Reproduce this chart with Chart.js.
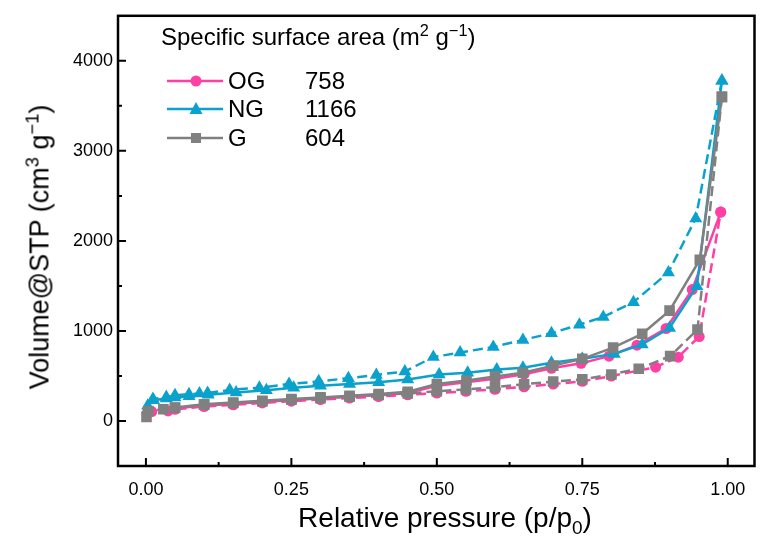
<!DOCTYPE html>
<html>
<head>
<meta charset="utf-8">
<script src="https://cdn.jsdelivr.net/npm/chart.js@4.4.0/dist/chart.umd.min.js"></script>
<style>
  body { margin: 0; background: #fff; font-family: "Liberation Sans", Arial, sans-serif; }
  #wrap { position: relative; width: 762px; height: 536px; }
  #wrap canvas { position: absolute; left: 0; top: 0; }
  .txt { position: absolute; color: #000; white-space: nowrap; line-height: 1; }
  sup, sub { font-size: 0.68em; line-height: 0; }
  #ytitle { left: 40px; top: 247px; font-size: 27px; transform: translate(-50%, -50%) rotate(-90deg); }
  #xtitle { left: 445px; top: 518px; font-size: 28px; transform: translate(-50%, -50%); }
  #legend { position: absolute; left: 161px; top: 25px; font-size: 24px; }
  .row { position: absolute; left: 6px; height: 24px; width: 220px; }
  .row svg { position: absolute; left: 0; top: 4px; }
  .row .name { position: absolute; left: 61px; top: 0px; }
  .row .val { position: absolute; left: 138px; top: 0px; }
</style>
</head>
<body>
<div id="wrap">
  <canvas id="isoChart" width="762" height="536"></canvas>
  <div class="txt" id="ytitle">Volume@STP (cm<sup>3</sup> g<sup>&minus;1</sup>)</div>
  <div class="txt" id="xtitle">Relative pressure (p/p<sub>0</sub>)</div>
  <div class="txt" id="legend">
    <div style="position:absolute;left:0;top:0;">Specific surface area (m<sup>2</sup> g<sup>&minus;1</sup>)</div>
    <div class="row" style="top:44px;">
      <svg width="58" height="16"><line x1="0" y1="8" x2="56" y2="8" stroke="#ff3fa3" stroke-width="2.5"/><circle cx="29" cy="8" r="5.5" fill="#ff3fa3"/></svg>
      <span class="name">OG</span><span class="val">758</span>
    </div>
    <div class="row" style="top:72px;">
      <svg width="58" height="16"><line x1="0" y1="8" x2="56" y2="8" stroke="#0aa2cc" stroke-width="2.5"/><polygon points="29,1 35.5,13 22.5,13" fill="#0aa2cc"/></svg>
      <span class="name">NG</span><span class="val">1166</span>
    </div>
    <div class="row" style="top:101px;">
      <svg width="58" height="16"><line x1="0" y1="8" x2="56" y2="8" stroke="#808080" stroke-width="2.5"/><rect x="24" y="3" width="10" height="10" fill="#808080"/></svg>
      <span class="name">G</span><span class="val">604</span>
    </div>
  </div>
</div>
<script>
// Datos: adsorción (rama inferior) y desorción (rama superior)
const ogAdsP = [0.002, 0.01, 0.038, 0.05, 0.1, 0.15, 0.2, 0.25, 0.3, 0.35, 0.4, 0.45, 0.5, 0.55, 0.6, 0.65, 0.7, 0.75, 0.8, 0.876, 0.915, 0.951, 0.988];
const ogAdsV = [85, 105, 112, 130, 160, 180, 200, 220, 238, 255, 272, 290, 310, 330, 352, 380, 410, 440, 499, 598, 709, 938, 2320];
const ogDesP = [0.988, 0.939, 0.894, 0.844, 0.796, 0.748, 0.697, 0.65, 0.6, 0.55, 0.5, 0.45, 0.4, 0.35, 0.3, 0.25, 0.2, 0.15, 0.1, 0.05];
const ogDesV = [2320, 1459, 1027, 842, 720, 640, 585, 520, 470, 430, 390, 312, 292, 272, 252, 232, 212, 192, 170, 140];

const ngAdsP = [0.003, 0.013, 0.035, 0.05, 0.074, 0.107, 0.155, 0.207, 0.254, 0.3, 0.35, 0.4, 0.45, 0.504, 0.553, 0.603, 0.648, 0.697, 0.75, 0.805, 0.853, 0.9, 0.947, 0.99];
const ngAdsV = [170, 230, 250, 262, 275, 290, 315, 340, 368, 390, 410, 430, 460, 517, 535, 573, 591, 646, 690, 745, 850, 1034, 1496, 3780];
const ngDesP = [0.99, 0.945, 0.898, 0.838, 0.786, 0.745, 0.697, 0.648, 0.597, 0.54, 0.494, 0.445, 0.396, 0.348, 0.297, 0.246, 0.195, 0.144, 0.106, 0.092, 0.074, 0.05, 0.035, 0.012];
const ngDesV = [3780, 2250, 1650, 1320, 1155, 1070, 975, 900, 822, 760, 710, 550, 512, 475, 440, 410, 370, 345, 310, 305, 298, 285, 265, 245];

const gAdsP = [0.001, 0.004, 0.03, 0.05, 0.1, 0.15, 0.2, 0.25, 0.3, 0.35, 0.4, 0.45, 0.5, 0.55, 0.6, 0.65, 0.7, 0.75, 0.8, 0.847, 0.901, 0.948, 0.99];
const gAdsV = [45, 110, 130, 147, 180, 200, 218, 235, 252, 270, 288, 305, 330, 351, 375, 408, 438, 462, 517, 580, 720, 1016, 3600];
const gDesP = [0.99, 0.952, 0.9, 0.853, 0.803, 0.75, 0.7, 0.648, 0.6, 0.551, 0.5, 0.45, 0.4, 0.35, 0.3, 0.25, 0.2, 0.15, 0.1, 0.05];
const gDesV = [3600, 1791, 1226, 968, 815, 690, 615, 535, 495, 450, 410, 325, 300, 280, 262, 244, 225, 205, 185, 150];

const xTicks = [0, 0.25, 0.5, 0.75, 1.0];
const yTicks = [0, 1000, 2000, 3000, 4000];

const PINK = '#ff3fa3';
const BLUE = '#0aa2cc';
const GRAY = '#808080';
const FONT = '"Liberation Sans", Arial, sans-serif';

function pts(ps, vs) {
    return ps.map((p, i) => ({ x: p, y: vs[i] }));
}

function serie(label, ps, vs, color, style, radius, dashed) {
    return {
        label: label,
        data: pts(ps, vs),
        borderColor: color,
        backgroundColor: color,
        borderWidth: 2.5,
        borderDash: dashed ? [10, 5] : [],
        pointStyle: style,
        pointRadius: radius,
        pointBorderWidth: 0,
        pointBackgroundColor: color,
        tension: 0
    };
}

// Marco y marcas de los ejes hacia dentro
const framePlugin = {
    id: 'frame',
    afterDraw(chart) {
        const { ctx, chartArea: a, scales } = chart;
        ctx.save();
        ctx.strokeStyle = '#000';
        ctx.lineWidth = 2.5;
        ctx.strokeRect(a.left, a.top, a.right - a.left, a.bottom - a.top);
        ctx.lineWidth = 2;
        ctx.beginPath();
        for (let v = 0; v <= 1.0001; v += 0.125) {
            const x = scales.x.getPixelForValue(v);
            const len = Math.abs((v / 0.25) - Math.round(v / 0.25)) < 0.01 ? 8 : 4;
            ctx.moveTo(x, a.bottom);
            ctx.lineTo(x, a.bottom - len);
        }
        for (let v = 0; v < 4500; v += 500) {
            const y = scales.y.getPixelForValue(v);
            const len = v % 1000 === 0 ? 8 : 4;
            ctx.moveTo(a.left, y);
            ctx.lineTo(a.left + len, y);
        }
        ctx.stroke();
        ctx.restore();
    }
};

const ctx = document.getElementById('isoChart').getContext('2d');
const chart = new Chart(ctx, {
    type: 'line',
    data: {
        datasets: [
            serie('G ads', gAdsP, gAdsV, GRAY, 'rect', 7.5, true),
            serie('G des', gDesP, gDesV, GRAY, 'rect', 7.5, false),
            serie('NG ads', ngAdsP, ngAdsV, BLUE, 'triangle', 7.5, false),
            serie('NG des', ngDesP, ngDesV, BLUE, 'triangle', 7.5, true),
            serie('OG ads', ogAdsP, ogAdsV, PINK, 'circle', 5.5, true),
            serie('OG des', ogDesP, ogDesV, PINK, 'circle', 5.5, false)
        ]
    },
    options: {
        responsive: false,
        animation: false,
        devicePixelRatio: 1,
        layout: { padding: { left: 0, top: 12, right: 2, bottom: 0 } },
        plugins: { legend: { display: false }, tooltip: { enabled: false } },
        scales: {
            x: {
                type: 'linear',
                min: -0.048,
                max: 1.046,
                afterBuildTicks: s => { s.ticks = xTicks.map(v => ({ value: v })); },
                afterFit: s => { s.height = 70; },
                grid: { display: false, drawTicks: false },
                border: { display: false },
                ticks: {
                    callback: v => Number(v).toFixed(2),
                    color: '#000',
                    font: { family: FONT, size: 18 },
                    padding: 13,
                    maxRotation: 0,
                    autoSkip: false
                }
            },
            y: {
                type: 'linear',
                min: -500,
                max: 4500,
                afterBuildTicks: s => { s.ticks = yTicks.map(v => ({ value: v })); },
                afterFit: s => { s.width = 118; },
                grid: { display: false, drawTicks: false },
                border: { display: false },
                ticks: {
                    callback: v => String(v),
                    color: '#000',
                    font: { family: FONT, size: 18 },
                    padding: 5
                }
            }
        }
    },
    plugins: [framePlugin]
});
</script>
</body>
</html>
